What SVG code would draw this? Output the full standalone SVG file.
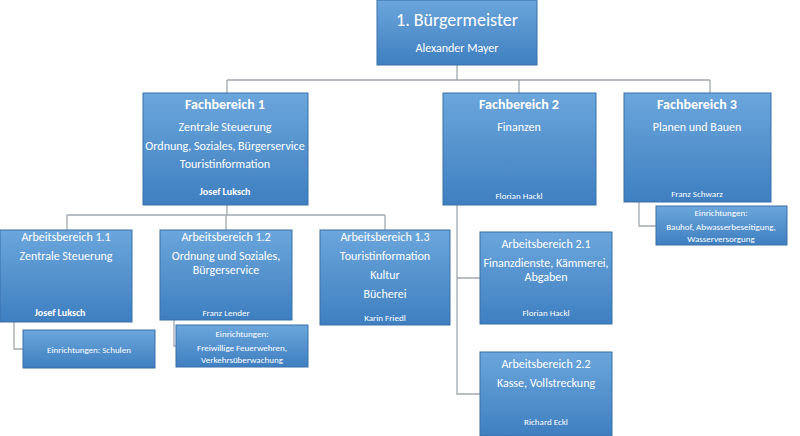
<svg xmlns="http://www.w3.org/2000/svg" width="800" height="436" viewBox="0 0 800 436">
<defs>
<linearGradient id="g" x1="0" y1="0" x2="0" y2="1"><stop offset="0" stop-color="#6ba6dc"/><stop offset="1" stop-color="#3f7fc0"/></linearGradient>
</defs>
<style>
rect{fill:url(#g);stroke:#3a6fa8;stroke-width:1}
text{fill:#fff;font-family:Calibri,"Open Sans","Liberation Sans",sans-serif;text-anchor:middle;font-size:12px}
.h{font-size:14px;font-weight:bold}
.t{font-size:18px}
.s{font-size:9px}
.b{font-weight:bold;font-size:10px}
#c path{fill:none;stroke:#a0a8b0;stroke-width:1.3}
</style>
<rect width="800" height="436" fill="#fff" style="fill:#fff;stroke:none"/>
<g id="c">
<path d="M457 65V80M227 80H710M227 80V93M519 80V93M710 80V93"/>
<path d="M227 205V215M67 215H385M67 215V230M226 215V230M385 215V230"/>
<path d="M14 322V349H23M174 320V346H176"/>
<path d="M457 205V394H480M457 278H480"/>
<path d="M639 202V226H656"/>
</g>
<g id="n0"><rect x="377" y="0" width="160" height="65"/><text x="457" y="26" class="t">1. Bürgermeister</text><text x="457" y="52" font-size="15">Alexander Mayer</text></g>
<g id="fb1"><rect x="143" y="93" width="165" height="112"/><text x="225" y="109" class="h">Fachbereich 1</text><text x="225" y="131">Zentrale Steuerung</text><text x="225" y="150">Ordnung, Soziales, Bürgerservice</text><text x="225" y="168">Touristinformation</text><text x="225" y="195" class="b">Josef Luksch</text></g>
<g id="fb2"><rect x="443" y="93" width="153" height="112"/><text x="519" y="109" class="h">Fachbereich 2</text><text x="519" y="131">Finanzen</text><text x="519" y="199" class="s">Florian Hackl</text></g>
<g id="fb3"><rect x="624" y="93" width="147" height="109"/><text x="697" y="109" class="h">Fachbereich 3</text><text x="697" y="131">Planen und Bauen</text><text x="697" y="197" class="s">Franz Schwarz</text></g>
<g id="ab11"><rect x="0" y="230" width="132" height="92"/><text x="66" y="241">Arbeitsbereich 1.1</text><text x="66" y="260">Zentrale Steuerung</text><text x="60" y="316" class="b">Josef Luksch</text></g>
<g id="ab12"><rect x="160" y="230" width="132" height="90"/><text x="226" y="241">Arbeitsbereich 1.2</text><text x="226" y="260">Ordnung und Soziales,</text><text x="226" y="274">Bürgerservice</text><text x="226" y="316" class="s">Franz Lender</text></g>
<g id="ab13"><rect x="320" y="230" width="130" height="95"/><text x="385" y="241">Arbeitsbereich 1.3</text><text x="385" y="260">Touristinformation</text><text x="385" y="279">Kultur</text><text x="385" y="298">Bücherei</text><text x="385" y="321" class="s">Karin Friedl</text></g>
<g id="e11"><rect x="23" y="330" width="132" height="38"/><text x="89" y="353" class="s">Einrichtungen: Schulen</text></g>
<g id="e12"><rect x="176" y="325" width="132" height="42"/><text x="242" y="337" class="s">Einrichtungen:</text><text x="242" y="351" class="s">Freiwillige Feuerwehren,</text><text x="242" y="363" class="s">Verkehrsüberwachung</text></g>
<g id="ab21"><rect x="480" y="232" width="132" height="92"/><text x="546" y="248">Arbeitsbereich 2.1</text><text x="546" y="267">Finanzdienste, Kämmerei,</text><text x="546" y="281">Abgaben</text><text x="546" y="316" class="s">Florian Hackl</text></g>
<g id="ab22"><rect x="480" y="352" width="132" height="84"/><text x="546" y="368">Arbeitsbereich 2.2</text><text x="546" y="387">Kasse, Vollstreckung</text><text x="546" y="425" class="s">Richard Eckl</text></g>
<g id="e3"><rect x="656" y="206" width="131" height="39"/><text x="721" y="216" class="s">Einrichtungen:</text><text x="721" y="230" class="s">Bauhof, Abwasserbeseitigung,</text><text x="721" y="242" class="s">Wasserversorgung</text></g>
</svg>
